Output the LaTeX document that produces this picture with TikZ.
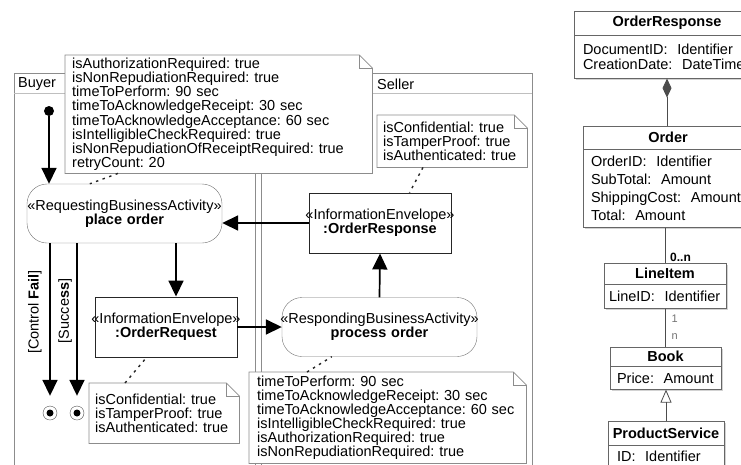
\documentclass[tikz,border=0pt]{standalone}
\usepackage{fontspec}
\setmainfont{Liberation Sans}
\usetikzlibrary{arrows.meta,positioning,shadows}

% note outline with folded corner
\newcommand{\dogear}[1]{%
  \draw[noteline] (#1.south west) -- (#1.north west) -- ([xshift=-13pt]#1.north east)
    -- ([yshift=-13pt]#1.north east) -- (#1.south east) -- cycle;
  \draw[noteline] ([xshift=-13pt]#1.north east) -- ([xshift=-13pt,yshift=-13pt]#1.north east)
    -- ([yshift=-13pt]#1.north east);}
\newcommand{\stereo}[1]{\makebox[0pt]{«#1»}}

\begin{document}
\frenchspacing
\begin{tikzpicture}[
  x=1pt, y=-1pt,
  font=\fontsize{14.5}{14.1}\selectfont,
  lane/.style={black!45, line width=0.8pt},
  notebox/.style={fill=white, align=left, anchor=north west, inner xsep=7pt, inner ysep=2pt},
  noteline/.style={draw=black!45, line width=0.8pt},
  activity/.style={draw=black!55, fill=white, rounded corners=20pt, text width=195pt,
    inner xsep=0pt, minimum height=59pt, align=center},
  envelope/.style={draw=black!85, fill=white, line width=0.9pt, text width=142pt,
    inner xsep=0pt, minimum height=60pt, align=center},
  flow/.style={line width=1.7pt, -{Triangle[length=16pt,width=15pt]}},
  anchorline/.style={black!85, line width=1.4pt, dash pattern=on 2.5pt off 4.5pt},
  initial/.style={circle, fill=black, minimum size=10pt, inner sep=0pt},
  final/.style={circle, draw=black!70, fill=white, minimum size=14pt, inner sep=0pt},
  clshead/.style={draw=black!60, fill=white, font=\fontsize{14.5}{15}\selectfont\bfseries,
    inner sep=0pt, drop shadow={shadow xshift=2pt, shadow yshift=-2pt, fill=black!35}},
  clsbody/.style={clshead, font=\fontsize{14.5}{15}\selectfont, align=left, inner ysep=2pt},
  mult/.style={font=\fontsize{11}{11}\selectfont, black!55, anchor=west, inner sep=1pt}
]
\useasboundingbox (0,0) rectangle (741,464);
\clip (0,0) rectangle (741,464);

% ---- swimlanes ----
\draw[lane] (14,470) -- (14,73) -- (532,73) -- (532,470);
\draw[lane] (255,73) -- (255,470);
\draw[lane] (261,73) -- (261,470);
\draw[lane, black!25] (14,93) -- (532,93);
\node[anchor=west, inner sep=0pt] (buyerlbl) at (18,84) {Buyer};
\node[anchor=west, inner sep=0pt] (sellerlbl) at (377,84) {Seller};

% ---- notes ----
\node[notebox, text width=293pt, minimum height=118pt] (buyernote) at (65,55)
  {isAuthorizationRequired: true\\isNonRepudiationRequired: true\\timeToPerform: 90 sec\\
   timeToAcknowledgeReceipt: 30 sec\\timeToAcknowledgeAcceptance: 60 sec\\
   isIntelligibleCheckRequired: true\\isNonRepudiationOfReceiptRequired: true\\retryCount: 20};
\dogear{buyernote}

\node[notebox, inner xsep=6pt, text width=138pt, minimum height=52pt] (sellernote) at (377,115)
  {isConfidential: true\\isTamperProof: true\\isAuthenticated: true};
\dogear{sellernote}

\node[notebox, inner xsep=6pt, text width=138pt, minimum height=60pt] (requestnote) at (89,383)
  {isConfidential: true\\isTamperProof: true\\isAuthenticated: true};
\dogear{requestnote}

\node[notebox, inner xsep=8pt, text width=261pt, minimum height=91pt] (processnote) at (249,372)
  {timeToPerform: 90 sec\\timeToAcknowledgeReceipt: 30 sec\\timeToAcknowledgeAcceptance: 60 sec\\
   isIntelligibleCheckRequired: true\\isAuthorizationRequired: true\\isNonRepudiationRequired: true};
\dogear{processnote}

% ---- activities and envelopes ----
\node[initial] (start) at (49,111) {};
\node[activity] (placeorder) at (124.5,213.5) {\stereo{RequestingBusinessActivity}\\\textbf{place order}};
\node[activity] (processorder) at (379.5,327) {\stereo{RespondingBusinessActivity}\\\textbf{process order}};
\node[envelope] (orderrequest) at (166,327) {\stereo{InformationEnvelope}\\\textbf{:OrderRequest}};
\node[envelope] (orderresponse) at (380,223) {\stereo{InformationEnvelope}\\\textbf{:OrderResponse}};
\node[final] (finfail) at (50,413) {};
\node[final] (finok) at (77,413) {};
\fill (finfail.center) circle (3.5pt);
\fill (finok.center) circle (3.5pt);

\draw[flow] (start) -- (start |- placeorder.north);
\draw[flow] (orderresponse.west) -- (orderresponse.west -| placeorder.east);
\draw[flow] ([xshift=10pt]orderrequest.north |- placeorder.south) -- ([xshift=10pt]orderrequest.north);
\draw[flow] (orderrequest.east) -- (orderrequest.east -| processorder.west);
\draw[flow] (processorder.north) -- (orderresponse.south);
\draw[flow] (finfail |- placeorder.south) -- ([yshift=10pt]finfail.north);
\draw[flow] (finok |- placeorder.south) -- ([yshift=10pt]finok.north);

\node[rotate=90] (failguard) at (35,312) {[Control \textbf{Fail}]};
\node[rotate=90] (okguard) at (65,311) {[Succe\textbf{ss}]};

\draw[anchorline] ([xshift=53pt]buyernote.south west) -- ([xshift=63pt]placeorder.north west);
\draw[anchorline] ([xshift=46pt]sellernote.south west) -- ([xshift=101pt]orderresponse.north west);
\draw[anchorline] ([xshift=36pt]requestnote.north west) -- ([xshift=52pt]orderrequest.south west);
\draw[anchorline] ([xshift=58pt]processnote.north west) -- ([xshift=50pt]processorder.south west);

% ---- class model ----
\node[clshead, minimum width=186pt, minimum height=24pt] (orderresp) at (667,23) {OrderResponse};
\node[clsbody, below=0pt of orderresp, inner xsep=9pt, text width=168pt, minimum height=43pt] (orderrespattr)
  {DocumentID:\ \ Identifier\\CreationDate:\ \ DateTime};

\node[clshead, minimum width=170pt, minimum height=23pt] (order) at (668,137.5) {Order};
\node[clsbody, below=0pt of order, inner xsep=8pt, text width=154pt, minimum height=78pt,
  font=\fontsize{14.5}{18}\selectfont] (orderattr)
  {OrderID:\ \ Identifier\\SubTotal:\ \ Amount\\ShippingCost:\ \ Amount\\Total:\ \ Amount};

\node[clshead, minimum width=122pt, minimum height=21pt] (lineitem) at (665,273.5) {LineItem};
\node[clsbody, below=0pt of lineitem, inner xsep=5pt, text width=112pt, minimum height=24pt] (lineitemattr)
  {LineID:\ \ Identifier};

\node[clshead, minimum width=111pt, minimum height=19pt] (book) at (665.5,356.5) {Book};
\node[clsbody, below=0pt of book, inner xsep=7pt, text width=97pt, minimum height=23pt] (bookattr)
  {Price:\ \ Amount};

\node[clshead, minimum width=116pt, minimum height=24pt] (prodsvc) at (666,433) {ProductService};
\node[clsbody, below=0pt of prodsvc, inner xsep=9pt, text width=98pt, minimum height=21pt] (prodsvcattr)
  {ID:\ \ Identifier};

\draw[black!70, line width=0.8pt, {Diamond[length=19pt,width=9pt]}-] (orderrespattr.south) -- (orderrespattr.south |- order.north);
\draw[black!70, line width=0.8pt] (lineitem.north |- orderattr.south) -- (lineitem.north);
\node[font=\fontsize{12}{12}\selectfont\bfseries, anchor=south west, inner sep=1pt] (manylbl)
  at ([xshift=4pt]lineitem.north) {0..n};
\draw[black!70, line width=0.8pt] (book.north |- lineitemattr.south) -- (book.north);
\node[mult] (onelbl) at ([xshift=5pt,yshift=-10pt]book.north |- lineitemattr.south) {1};
\node[mult] (nlbl) at ([xshift=5pt,yshift=10pt]book.north) {n};
\draw[black!70, line width=0.8pt, -{Triangle[open,length=13pt,width=11pt]}] (prodsvc.north) -- (prodsvc.north |- bookattr.south);
\end{tikzpicture}
\end{document}
